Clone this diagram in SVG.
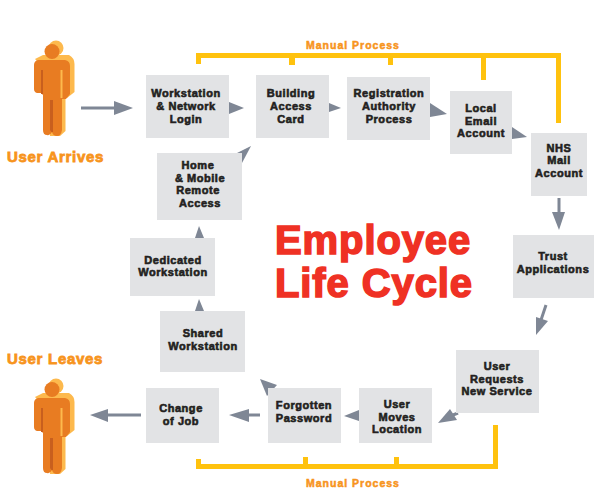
<svg xmlns="http://www.w3.org/2000/svg" xmlns:xlink="http://www.w3.org/1999/xlink" width="594" height="488" viewBox="0 0 594 488">
<style>
text{font-family:"Liberation Sans",Arial,sans-serif;font-weight:bold}
.box{fill:#e2e3e5}
.t{font-size:11px;letter-spacing:.55px;fill:#231f20;stroke:#231f20;stroke-width:.6px;text-anchor:middle}
.label{font-size:15px;letter-spacing:.7px;fill:#f7941d;stroke:#f7941d;stroke-width:.8px}
.mp{font-size:10.500px;letter-spacing:1px;fill:#f7941d;stroke:#f7941d;stroke-width:.5px}
.title{font-size:40px;letter-spacing:.9px;fill:#ef3124;stroke:#ef3124;stroke-width:1.600px}
.a{fill:#7f8795}
.l{stroke:#7f8795;stroke-width:3px;fill:none}
.y{fill:#ffc20e}
</style>
<defs>
<g id="person">
<circle cx="56" cy="48" r="7.500" fill="#fdb94d"/>
<path d="M35 59L43 55H69Q74.500 58 74.500 64V92L67 98H65.500V131L60 136H50L45 70Z" fill="#fdb94d"/>
<circle cx="52" cy="51.500" r="7.500" fill="#e87c22"/>
<path d="M38 60H65Q70 61 70 66V94L66 99H62V130Q61 136 57 136Q53 136 52 132Q50 136 47 135Q43 135 43 130V95L41 93H37Q34 92 34 89V65Q34 61 38 60Z" fill="#e87c22"/>
<path d="M41 70H43V94H41Z" fill="#c85f1e"/>
<path d="M60.500 70H62.500V98H60.500Z" fill="#fdb94d"/>
<path d="M50 100H53V132H51.500L50 130Z" fill="#c85f1e"/>
</g>
</defs>
<g id="user-arrives"><use href="#person" xlink:href="#person"/><text class="label" x="7" y="162">User Arrives</text></g>
<g id="user-leaves"><use href="#person" xlink:href="#person" y="338"/><text class="label" x="7" y="364">User Leaves</text></g>
<g id="connectors">
<path class="y" d="M196 53H561V123H556V58H486V80H481V58H393V65H388V58H295V65H289V58H201V64H196Z"/>
<path class="y" d="M196 459H201V464H303V457H308V464H394V457H399V464H493V425H498V469H196Z"/>
<path class="l" d="M81 108H115"/><path class="a" d="M114 101L133 108L114 115Z"/>
<path class="a" d="M229 102L244 108L229 114Z"/>
<path class="a" d="M329 103L341 108L329 112Z"/>
<path class="a" d="M430 103L447 114L430 117Z"/>
<path class="a" d="M512 127L527 137L512 139Z"/>
<path class="l" d="M559 198V213"/><path class="a" d="M552 212L559 230L565 212Z"/>
<path class="l" d="M546 305L541 320"/><path class="a" d="M536 317L548 321L536 335Z"/>
<path class="l" d="M458 413L448 417"/><path class="a" d="M450 409L457 420L438 423Z"/>
<path class="a" d="M359 410L344 416L359 421Z"/>
<path class="l" d="M260 415H248"/><path class="a" d="M249 409L229 415L249 422Z"/>
<path class="l" d="M141 415H107"/><path class="a" d="M108 409L90 415L108 422Z"/>
<path class="a" d="M260 379L277 385L267 396Z"/>
<path class="a" d="M195 311L199 299L204 311Z"/>
<path class="a" d="M195 238L199 226L204 238Z"/>
<path class="a" d="M237 153L251 146L242 163Z"/>
</g>
<g id="workstation-login"><rect class="box" x="146" y="75" width="83" height="63"/><text class="t" x="186" y="97">Workstation</text><text class="t" x="186" y="110">&amp; Network</text><text class="t" x="186" y="123">Login</text></g>
<g id="building-access"><rect class="box" x="256" y="75" width="73" height="63"/><text class="t" x="291" y="97">Building</text><text class="t" x="291" y="110">Access</text><text class="t" x="291" y="123">Card</text></g>
<g id="registration"><rect class="box" x="347" y="77" width="83" height="63"/><text class="t" x="389" y="97">Registration</text><text class="t" x="389" y="110">Authority</text><text class="t" x="389" y="123">Process</text></g>
<g id="local-email"><rect class="box" x="450" y="91" width="62" height="63"/><text class="t" x="481" y="112">Local</text><text class="t" x="481" y="125">Email</text><text class="t" x="481" y="137">Account</text></g>
<g id="nhs-mail"><rect class="box" x="531" y="133" width="56" height="63"/><text class="t" x="559" y="152">NHS</text><text class="t" x="559" y="164">Mail</text><text class="t" x="559" y="177">Account</text></g>
<g id="trust-apps"><rect class="box" x="513" y="235" width="81" height="63"/><text class="t" x="553" y="260">Trust</text><text class="t" x="553" y="273">Applications</text></g>
<g id="user-requests"><rect class="box" x="456" y="350" width="83" height="63"/><text class="t" x="497" y="370">User</text><text class="t" x="497" y="383">Requests</text><text class="t" x="497" y="395">New Service</text></g>
<g id="user-moves"><rect class="box" x="359" y="388" width="73" height="55"/><text class="t" x="397" y="408">User</text><text class="t" x="397" y="421">Moves</text><text class="t" x="397" y="433">Location</text></g>
<g id="forgotten"><rect class="box" x="268" y="388" width="73" height="55"/><text class="t" x="304" y="409">Forgotten</text><text class="t" x="304" y="422">Password</text></g>
<g id="change-job"><rect class="box" x="146" y="388" width="73" height="55"/><text class="t" x="181" y="412">Change</text><text class="t" x="181" y="425">of Job</text></g>
<g id="shared"><rect class="box" x="160" y="311" width="85" height="61"/><text class="t" x="203" y="337">Shared</text><text class="t" x="203" y="350">Workstation</text></g>
<g id="dedicated"><rect class="box" x="130" y="238" width="85" height="58"/><text class="t" x="173" y="264">Dedicated</text><text class="t" x="173" y="276">Workstation</text></g>
<g id="home-mobile"><rect class="box" x="157" y="153" width="85" height="67"/><text class="t" x="198" y="169">Home</text><text class="t" x="200" y="182">&amp; Mobile</text><text class="t" x="198" y="194">Remote</text><text class="t" x="200" y="207">Access</text></g>
<text class="mp" x="306" y="49">Manual Process</text>
<text class="mp" x="306" y="487">Manual Process</text>
<text class="title" x="275" y="254">Employee</text>
<text class="title" x="275" y="297">Life Cycle</text>
</svg>
